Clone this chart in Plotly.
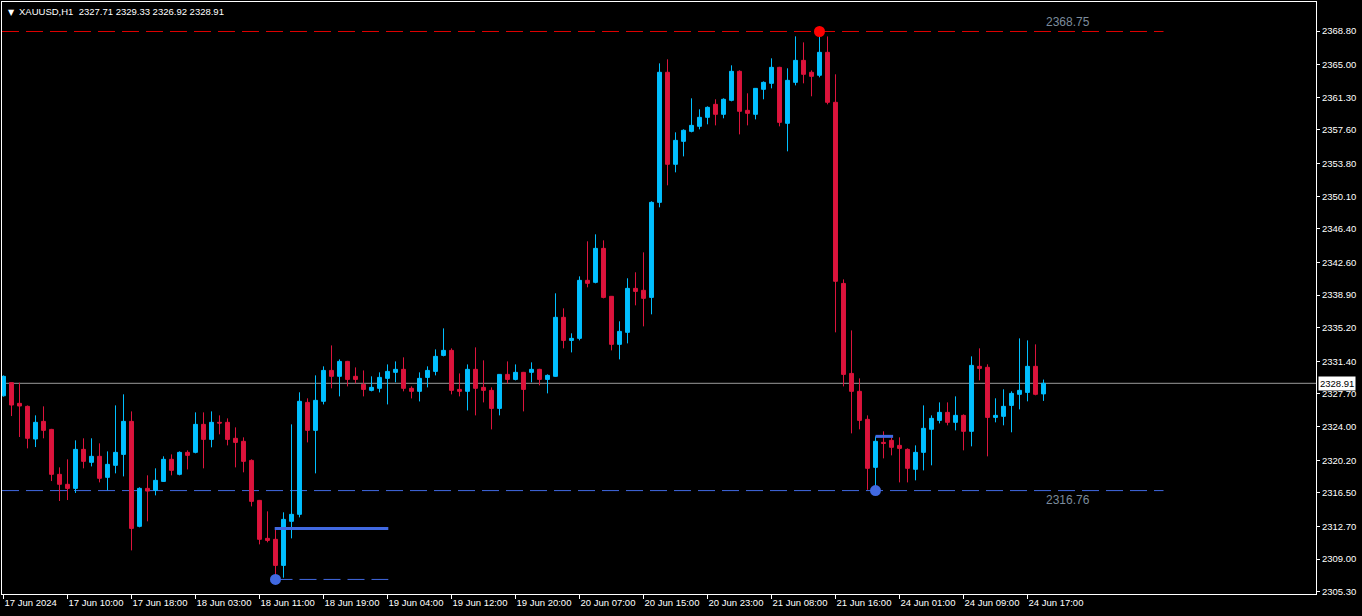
import plotly.graph_objects as go

# ---------------- data ----------------
bars = list(range(131))
opens = [2327.5, 2328.98, 2326.64, 2326.3, 2322.6, 2324.6, 2323.69, 2318.6, 2317.47, 2317.01,
         2321.43, 2319.96, 2320.64, 2318.26, 2319.62, 2320.86, 2324.6, 2312.71, 2317.01, 2316.79,
         2317.8, 2320.3, 2318.6, 2321.09, 2321.09, 2324.26, 2322.56, 2324.49, 2324.49, 2322.68,
         2322.34, 2320.18, 2315.65, 2311.35, 2311.24, 2308.29, 2313.28, 2314.07, 2326.75, 2323.58,
         2326.87, 2330.37, 2329.7, 2331.39, 2329.7, 2328.79, 2328.11, 2328.34, 2329.47, 2330.15,
         2330.49, 2328.34, 2328.0, 2329.58, 2330.26, 2332.07, 2332.64, 2328.22, 2328.0, 2330.49,
         2328.45, 2328.11, 2326.07, 2329.92, 2329.35, 2330.15, 2330.15, 2330.49, 2329.35, 2329.7,
         2336.38, 2333.77, 2334.0, 2340.57, 2340.34, 2344.19, 2338.76, 2333.32, 2334.68, 2339.66,
         2339.44, 2338.64, 2349.4, 2364.13, 2353.71, 2356.31, 2357.44, 2358.01, 2359.03, 2360.5,
         2359.37, 2360.95, 2364.24, 2359.82, 2359.37, 2362.2, 2362.88, 2364.69, 2358.35, 2362.99,
         2365.48, 2364.13, 2363.79, 2366.39, 2360.73, 2340.22, 2330.03, 2328.0, 2324.83, 2319.39,
         2322.22, 2322.45, 2321.88, 2321.43, 2319.17, 2321.09, 2323.7, 2324.71, 2325.62, 2324.49,
         2325.28, 2323.47, 2330.83, 2330.72, 2325.05, 2325.17, 2326.41, 2327.66, 2327.88, 2330.83,
         2327.71]
highs = [2329.8, 2329.0, 2328.98, 2326.4, 2325.28, 2326.3, 2323.75, 2319.39, 2320.3, 2322.45,
         2322.68, 2322.68, 2322.11, 2321.2, 2326.41, 2327.66, 2325.73, 2317.13, 2318.49, 2319.28,
         2320.64, 2320.86, 2321.2, 2321.32, 2325.62, 2325.62, 2325.73, 2325.28, 2324.94, 2323.92,
         2322.79, 2320.3, 2315.7, 2314.41, 2312.48, 2314.3, 2324.26, 2327.89, 2327.21, 2329.81,
         2330.83, 2333.2, 2331.62, 2331.45, 2330.71, 2330.37, 2329.7, 2330.15, 2331.05, 2331.39,
         2331.85, 2328.56, 2330.15, 2330.83, 2332.75, 2335.13, 2332.87, 2330.03, 2331.05, 2332.98,
         2331.51, 2328.45, 2329.95, 2331.39, 2331.05, 2330.2, 2331.28, 2330.55, 2329.92, 2339.1,
         2337.4, 2334.57, 2341.02, 2344.99, 2345.78, 2345.1, 2338.8, 2335.93, 2340.8, 2341.48,
         2343.74, 2349.52, 2365.14, 2365.6, 2357.33, 2357.67, 2361.18, 2359.94, 2360.27, 2361.07,
         2361.18, 2364.92, 2364.35, 2361.75, 2362.35, 2363.1, 2365.71, 2364.75, 2364.58, 2368.2,
         2367.52, 2364.35, 2368.75, 2368.19, 2363.9, 2340.68, 2334.9, 2329.47, 2325.28, 2322.9,
         2323.47, 2322.79, 2322.79, 2321.54, 2321.88, 2326.41, 2325.28, 2326.75, 2326.75, 2327.43,
         2325.39, 2331.96, 2332.87, 2331.06, 2327.21, 2328.23, 2328.0, 2334.0, 2333.77, 2333.32,
         2329.33]
lows = [2327.4, 2325.2, 2322.83, 2321.54, 2321.69, 2322.68, 2317.84, 2315.58, 2315.69, 2316.49,
        2319.28, 2319.5, 2317.69, 2316.79, 2318.71, 2318.37, 2309.99, 2312.6, 2313.28, 2316.22,
        2317.75, 2318.49, 2318.49, 2319.16, 2320.98, 2319.28, 2321.66, 2323.13, 2321.88, 2319.39,
        2318.83, 2314.97, 2310.67, 2310.9, 2306.7, 2306.9, 2311.35, 2313.73, 2322.22, 2318.71,
        2326.52, 2328.34, 2327.43, 2328.56, 2328.9, 2327.43, 2328.0, 2327.88, 2326.52, 2329.02,
        2328.0, 2327.2, 2326.86, 2328.45, 2329.81, 2331.96, 2327.66, 2327.43, 2325.84, 2325.28,
        2326.75, 2323.69, 2325.28, 2328.9, 2329.24, 2325.73, 2329.02, 2328.68, 2327.77, 2329.65,
        2332.87, 2332.41, 2333.77, 2339.78, 2340.23, 2338.53, 2332.64, 2331.62, 2333.43, 2337.74,
        2335.36, 2336.72, 2348.84, 2351.33, 2352.8, 2354.61, 2357.33, 2357.67, 2358.24, 2358.12,
        2358.92, 2360.84, 2357.1, 2358.12, 2358.8, 2361.07, 2362.31, 2358.01, 2355.18, 2362.65,
        2362.88, 2361.41, 2363.56, 2360.5, 2334.68, 2328.56, 2323.24, 2323.7, 2316.85, 2316.76,
        2320.41, 2320.75, 2317.69, 2317.69, 2317.92, 2319.05, 2319.62, 2324.37, 2324.15, 2323.58,
        2321.32, 2321.77, 2329.24, 2320.64, 2324.49, 2324.15, 2323.36, 2325.96, 2326.87, 2327.55,
        2326.92]
closes = [2329.7, 2326.45, 2326.34, 2322.68, 2324.49, 2323.58, 2318.6, 2317.47, 2317.01, 2321.43,
          2320.07, 2320.64, 2318.15, 2319.73, 2321.09, 2324.6, 2312.48, 2317.01, 2316.71, 2317.92,
          2320.3, 2319.05, 2321.09, 2320.75, 2324.26, 2322.56, 2324.49, 2324.41, 2322.56, 2322.22,
          2320.07, 2315.54, 2311.24, 2311.12, 2308.29, 2313.5, 2314.07, 2326.87, 2323.58, 2326.98,
          2330.37, 2329.7, 2331.39, 2329.35, 2329.35, 2328.22, 2328.45, 2329.58, 2330.26, 2330.49,
          2328.34, 2328.0, 2329.47, 2330.37, 2331.96, 2332.64, 2328.11, 2328.0, 2330.49, 2328.34,
          2328.11, 2326.07, 2329.92, 2329.35, 2330.15, 2328.22, 2330.49, 2329.35, 2329.81, 2336.38,
          2333.77, 2334.0, 2340.57, 2340.23, 2344.19, 2338.64, 2333.32, 2334.79, 2339.66, 2339.32,
          2338.53, 2349.4, 2364.13, 2353.71, 2356.42, 2357.56, 2358.12, 2359.03, 2360.16, 2359.37,
          2361.07, 2364.24, 2359.71, 2359.48, 2362.31, 2362.99, 2364.69, 2358.46, 2363.22, 2365.48,
          2363.9, 2363.67, 2366.39, 2360.73, 2340.46, 2329.92, 2328.0, 2324.71, 2319.28, 2322.34,
          2322.11, 2321.66, 2321.54, 2319.28, 2321.09, 2323.81, 2324.94, 2325.62, 2324.49, 2325.28,
          2323.47, 2330.94, 2330.6, 2325.05, 2325.28, 2326.3, 2327.77, 2328.11, 2330.83, 2327.66,
          2328.91]

x_tick_bars = [0, 8, 16, 24, 32, 40, 48, 56, 64, 72, 80, 88, 96, 104, 112, 120, 128]
x_tick_text = ["17 Jun 2024", "17 Jun 10:00", "17 Jun 18:00", "18 Jun 03:00", "18 Jun 11:00",
               "18 Jun 19:00", "19 Jun 04:00", "19 Jun 12:00", "19 Jun 20:00", "20 Jun 07:00",
               "20 Jun 15:00", "20 Jun 23:00", "21 Jun 08:00", "21 Jun 16:00", "24 Jun 01:00",
               "24 Jun 09:00", "24 Jun 17:00"]
y_tick_vals = [2368.80, 2365.00, 2361.30, 2357.60, 2353.80, 2350.10, 2346.40, 2342.60, 2338.90,
               2335.20, 2331.40, 2327.70, 2324.00, 2320.20, 2316.50, 2312.70, 2309.00, 2305.30]
y_tick_text = ["%.2f" % v for v in y_tick_vals]

symbol_text = "XAUUSD,H1\u00a0\u00a02327.71 2329.33 2326.92 2328.91"
current_price = 2328.91

# swing levels
top_level = 2368.75          # high of bar 102
top_bar = 102
bottom_level = 2316.76       # low of bar 109
bottom_bar = 109
bottom_candle_high = 2322.9  # high of bar 109
bottom_candle_end = 111.2
prev_low_level = 2306.7      # low of bar 34
prev_low_bar = 34
prev_low_candle_high = 2312.48
prev_low_end = 48.1
level_line_end = 145
level_label_x = 133.1

BULL = "#00BFFF"
BEAR = "#DC143C"
MARK_BLUE = "#4169E1"
LABEL_GREY = "#7C8C9C"

fig = go.Figure()
fig.add_trace(go.Candlestick(
    x=bars, open=opens, high=highs, low=lows, close=closes,
    increasing=dict(line=dict(color=BULL, width=1), fillcolor=BULL),
    decreasing=dict(line=dict(color=BEAR, width=1), fillcolor=BEAR),
    whiskerwidth=0, hoverinfo="skip", showlegend=False))

# swing markers
fig.add_trace(go.Scatter(x=[top_bar], y=[top_level], mode="markers",
                         marker=dict(color="#FF0000", size=11), showlegend=False, hoverinfo="skip"))
fig.add_trace(go.Scatter(x=[prev_low_bar, bottom_bar], y=[prev_low_level, bottom_level], mode="markers",
                         marker=dict(color=MARK_BLUE, size=11), showlegend=False, hoverinfo="skip"))

shapes = []
x_left = -0.1875
x_right = x_left + 1314 / 8.0
y_lo, y_hi = 2305.05, 2372.09
# current price line
shapes.append(dict(type="line", xref="x", yref="y", x0=x_left, x1=x_right, y0=current_price, y1=current_price,
                   line=dict(color="#9A9A9A", width=1), layer="below"))
# level lines
shapes.append(dict(type="line", xref="x", yref="y", x0=x_left, x1=level_line_end, y0=top_level, y1=top_level,
                   line=dict(color="#E00000", width=1, dash="17px,7px"), layer="below"))
shapes.append(dict(type="line", xref="x", yref="y", x0=x_left, x1=level_line_end, y0=bottom_level, y1=bottom_level,
                   line=dict(color=MARK_BLUE, width=1, dash="17px,7px"), layer="below"))
shapes.append(dict(type="line", xref="x", yref="y", x0=prev_low_bar, x1=prev_low_end, y0=prev_low_level, y1=prev_low_level,
                   line=dict(color=MARK_BLUE, width=1, dash="17px,7px"), layer="below"))
shapes.append(dict(type="line", xref="x", yref="y", x0=prev_low_bar - 0.1, x1=prev_low_end, y0=prev_low_candle_high,
                   y1=prev_low_candle_high, line=dict(color=MARK_BLUE, width=3)))
shapes.append(dict(type="line", xref="x", yref="y", x0=bottom_bar, x1=bottom_candle_end, y0=bottom_candle_high,
                   y1=bottom_candle_high, line=dict(color=MARK_BLUE, width=3)))

annotations = [
    dict(xref="paper", yref="paper", x=0, y=1, xanchor="left", yanchor="top", xshift=4, yshift=-4,
         text="\u25BC", showarrow=False, font=dict(family="DejaVu Sans", size=8, color="white")),
    dict(xref="paper", yref="paper", x=0, y=1, xanchor="left", yanchor="top", xshift=15, yshift=-2,
         text=symbol_text, showarrow=False, font=dict(family="Liberation Sans", size=9.5, color="white")),
    dict(xref="x", yref="y", x=level_label_x, y=top_level, yanchor="bottom", xanchor="center",
         text="%.2f" % top_level, showarrow=False, font=dict(family="Liberation Sans", size=12, color=LABEL_GREY)),
    dict(xref="x", yref="y", x=level_label_x, y=bottom_level, yanchor="top", xanchor="center",
         text="%.2f" % bottom_level, showarrow=False, font=dict(family="Liberation Sans", size=12, color=LABEL_GREY)),
    dict(xref="paper", yref="y", x=1, y=current_price, xanchor="left", yanchor="middle", xshift=2,
         text="%.2f" % current_price, showarrow=False, bgcolor="white", borderpad=1,
         font=dict(family="Liberation Sans", size=9.5, color="black")),
]

fig.update_layout(
    width=1362, height=616,
    paper_bgcolor="black", plot_bgcolor="black",
    margin=dict(l=2, r=46, t=2, b=22),
    showlegend=False,
    boxgap=0.3, boxgroupgap=0.3,
    shapes=shapes, annotations=annotations,
    xaxis=dict(range=[x_left, x_right], showgrid=False, zeroline=False,
               showline=True, mirror=True, linecolor="white", linewidth=1,
               tickmode="array", tickvals=x_tick_bars, ticktext=x_tick_text,
               ticks="outside", ticklen=4, tickcolor="white",
               ticklabelposition="outside right",
               tickfont=dict(family="Liberation Sans", size=9.5, color="white"),
               rangeslider=dict(visible=False)),
    yaxis=dict(range=[y_lo, y_hi], side="right", showgrid=False, zeroline=False,
               showline=True, mirror=True, linecolor="white", linewidth=1,
               tickmode="array", tickvals=y_tick_vals, ticktext=y_tick_text,
               ticks="outside", ticklen=3, tickcolor="white",
               tickfont=dict(family="Liberation Sans", size=9.5, color="white")),
)

fig.write_html("out.html", config={"displayModeBar": False},
               post_script="document.body.style.margin='0';document.body.style.overflow='hidden';")
